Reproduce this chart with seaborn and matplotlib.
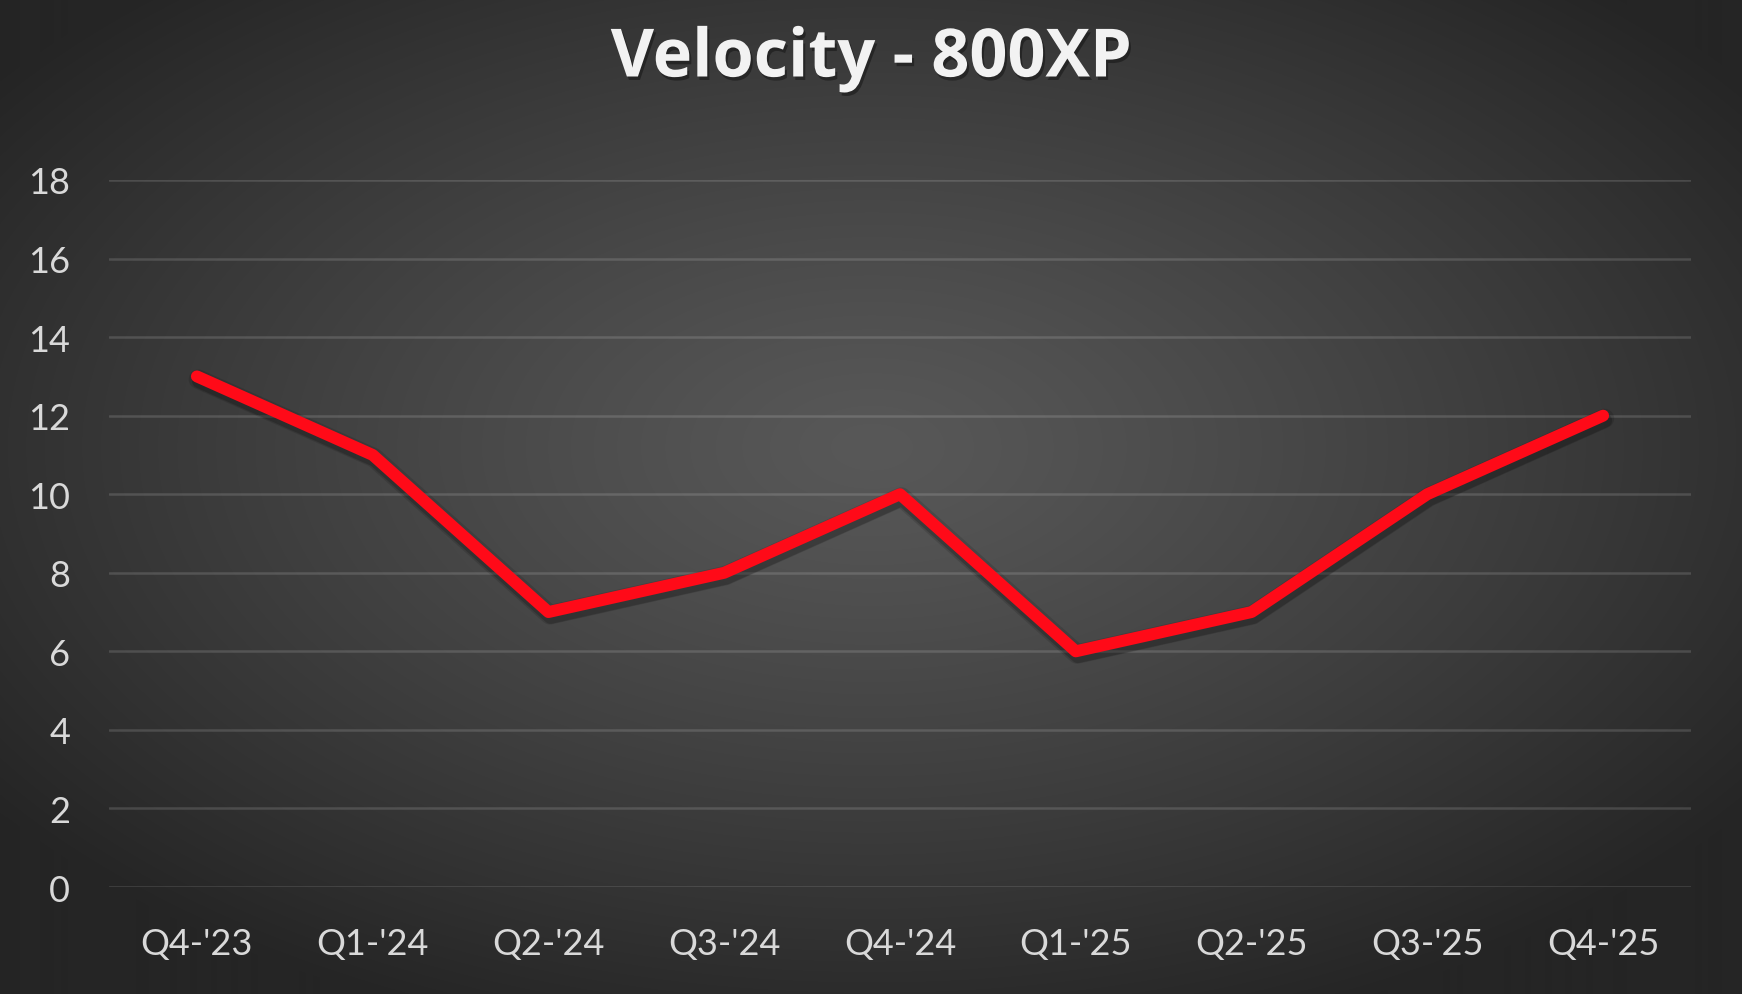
import numpy as np
import pandas as pd
import matplotlib
matplotlib.use("Agg")
import matplotlib.pyplot as plt
import matplotlib.patheffects as pe
import seaborn as sns

quarters = ["Q4-'23", "Q1-'24", "Q2-'24", "Q3-'24", "Q4-'24", "Q1-'25", "Q2-'25", "Q3-'25", "Q4-'25"]
velocity = [13, 11, 7, 8, 10, 6, 7, 10, 12]
y_ticks = [0, 2, 4, 6, 8, 10, 12, 14, 16, 18]
title_text = "Velocity - 800XP"

sns.set_theme(style="dark")
plt.rcParams['font.family'] = ['Lato', 'DejaVu Sans']

W, H = 1742, 995
fig = plt.figure(figsize=(W / 100, H / 100), dpi=100)

# radial gradient background
bg = fig.add_axes([0, 0, 1, 1], zorder=-10)
yy, xx = np.mgrid[0:H, 0:W]
cx, cy = W * 0.5, H * 0.45
r = np.sqrt(((xx - cx) / (W * 0.62)) ** 2 + ((yy - cy) / (H * 0.62)) ** 2)
r = np.clip(r, 0, 1)
c_in, c_out = 0x58 / 255, 0x25 / 255
val = c_in + (c_out - c_in) * r ** 1.2
img = np.dstack([val, val, val])
bg.imshow(img, aspect='auto', extent=[0, 1, 0, 1])
bg.set_axis_off()

ax = fig.add_axes([109 / W, 1 - 888 / H, (1691 - 109) / W, (888 - 181) / H])
ax.patch.set_alpha(0)

df = pd.DataFrame({"quarter": quarters, "velocity": velocity})
df["pos"] = range(len(quarters))
shadow = [pe.SimpleLineShadow(offset=(1, -2), shadow_color="black", alpha=0.12, linewidth=14),
          pe.SimpleLineShadow(offset=(1.5, -3.5), shadow_color="black", alpha=0.18, linewidth=10),
          pe.Normal()]
sns.lineplot(data=df, x="pos", y="velocity", ax=ax, color="#ff0a18", linewidth=8.6,
             solid_capstyle="round", solid_joinstyle="round", zorder=5,
             path_effects=shadow)

ax.set_xlim(-0.5, len(quarters) - 0.5)
ax.set_ylim(0, 18)
ax.set_yticks(y_ticks)
ax.set_xticks(range(len(quarters)))
ax.set_xticklabels(quarters)
ax.grid(axis='y', color="white", alpha=0.14, linewidth=1.8)
ax.grid(axis='x', visible=False)
for s in ax.spines.values():
    s.set_visible(False)
ax.tick_params(axis='both', length=0, labelsize=26, labelcolor="#d9d9d9")
ax.tick_params(axis='y', pad=28)
ax.tick_params(axis='x', pad=29)
ax.set_xlabel("")
ax.set_ylabel("")

fig.text(0.5, 1 - 60 / H, title_text, ha='center', va='center', fontsize=48, fontweight='bold',
         color="#f2f2f2", family=['Open Sans', 'DejaVu Sans'],
         path_effects=[pe.withSimplePatchShadow(offset=(1.5, -2.5), shadow_rgbFace="black", alpha=0.35)])

fig.savefig("out.png", dpi=100)
